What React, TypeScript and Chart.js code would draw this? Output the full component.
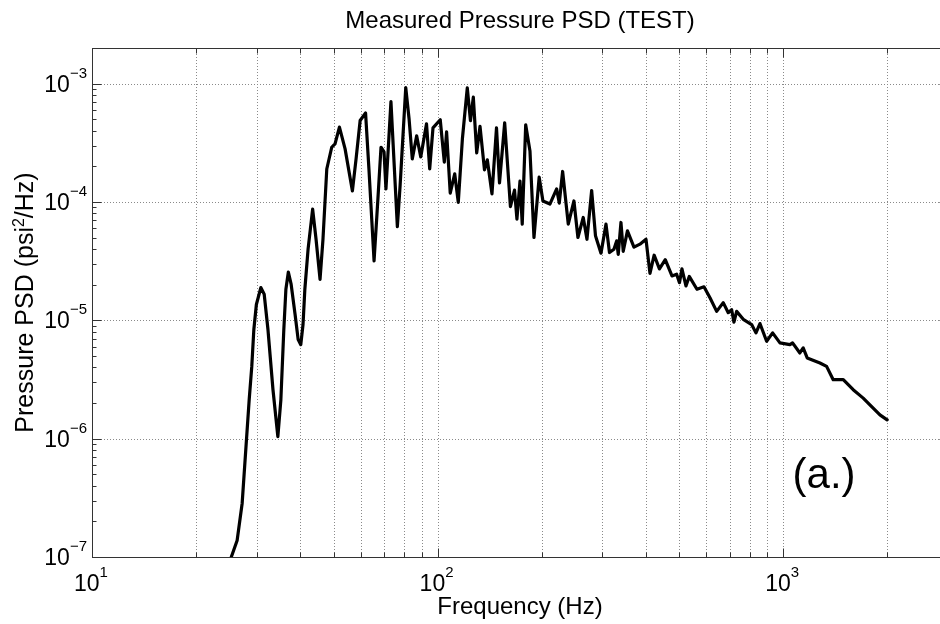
import React, { useEffect, useRef } from "react";
import { Chart, registerables } from "chart.js";

Chart.register(...registerables);

// ---- Data ----
const FREQ_HZ = [
  24.4, 25.3, 26.3, 27.2, 28.0, 28.5, 29.0, 29.4, 29.9, 30.8,
  31.5, 32.3, 33.4, 34.5, 35.2, 35.9, 36.4, 37.0, 37.7, 38.7,
  39.5, 40.2, 40.8, 41.3, 42.2, 43.5, 44.5, 45.7, 46.6, 47.8,
  49.4, 50.5, 52.0, 54.0, 56.7, 58.1, 59.7, 61.9, 63.3, 65.5,
  67.2, 68.6, 70.0, 70.9, 73.3, 76.5, 77.9, 80.9, 82.7, 84.5,
  87.0, 89.4, 92.9, 94.9, 97.0, 101.8, 104.6, 106.2, 108.8, 112.1,
  114.8, 118.0, 121.9, 124.5, 126.9, 129.8, 132.7, 136.7, 139.3, 143.7,
  148.1, 151.1, 156.4, 162.5, 167.0, 169.7, 173.2, 175.8, 179.9, 185.1,
  190.1, 196.8, 201.8, 211.4, 221.1, 225.0, 230.1, 238.9, 248.1, 254.8,
  264.0, 270.6, 279.2, 286.4, 297.1, 307.2, 314.4, 323.9, 329.8, 333.3,
  339.4, 344.6, 354.4, 370.1, 385.2, 401.0, 411.8, 423.4, 438.6, 456.0,
  476.8, 491.9, 501.2, 509.6, 523.4, 535.0, 563.2, 590.1, 614.2, 642.2,
  671.0, 693.7, 709.6, 720.6, 733.7, 766.7, 810.8, 834.4, 856.9, 895.9,
  932.4, 979.0, 1046, 1065, 1118, 1143, 1174, 1278, 1336, 1396,
  1493, 1595, 1705, 1783, 1906, 2000,
];

const PSD_PSI2_PER_HZ = [
  6.98e-8, 1.0e-7, 1.38e-7, 2.85e-7, 9.94e-7, 2.13e-6, 4.08e-6, 8.36e-6, 1.36e-5, 1.89e-5,
  1.66e-5, 8.36e-6, 2.59e-6, 1.04e-6, 2.13e-6, 8.36e-6, 1.83e-5, 2.56e-5, 2.01e-5, 1.12e-5,
  6.87e-6, 6.23e-6, 9.21e-6, 1.83e-5, 3.99e-5, 8.7e-5, 4.84e-5, 2.22e-5, 4.84e-5, 1.9e-4,
  2.9e-4, 3.1e-4, 4.29e-4, 2.81e-4, 1.24e-4, 2.31e-4, 4.88e-4, 5.64e-4, 1.9e-4, 3.17e-5,
  1.06e-4, 2.9e-4, 2.65e-4, 1.29e-4, 7.04e-4, 6.18e-5, 1.37e-4, 9.25e-4, 5.05e-4, 2.31e-4,
  3.62e-4, 2.4e-4, 4.58e-4, 1.9e-4, 4.23e-4, 4.95e-4, 2.17e-4, 3.92e-4, 1.19e-4, 1.73e-4,
  9.92e-5, 3.42e-4, 9.19e-4, 4.86e-4, 7.68e-4, 2.6e-4, 4.36e-4, 1.87e-4, 2.27e-4, 1.17e-4,
  4.23e-4, 1.45e-4, 4.67e-4, 9.14e-5, 1.26e-4, 7.16e-5, 1.5e-4, 6.5e-5, 4.49e-4, 2.7e-4,
  5.01e-5, 1.62e-4, 1.02e-4, 9.6e-5, 1.29e-4, 9.79e-5, 1.81e-4, 6.5e-5, 1.02e-4, 5.01e-5,
  7.4e-5, 4.84e-5, 1.25e-4, 5.19e-5, 3.69e-5, 6.5e-5, 3.74e-5, 3.99e-5, 4.69e-5, 3.61e-5,
  6.71e-5, 3.83e-5, 5.7e-5, 4.15e-5, 4.4e-5, 4.84e-5, 2.49e-5, 3.55e-5, 2.72e-5, 3.25e-5,
  2.37e-5, 2.45e-5, 2.08e-5, 2.72e-5, 1.95e-5, 2.35e-5, 1.83e-5, 1.92e-5, 1.55e-5, 1.19e-5,
  1.41e-5, 1.16e-5, 1.23e-5, 9.64e-6, 1.19e-5, 1.02e-5, 9.21e-6, 7.83e-6, 9.39e-6, 6.65e-6,
  7.83e-6, 6.44e-6, 6.23e-6, 6.44e-6, 5.3e-6, 5.84e-6, 4.81e-6, 4.36e-6, 4.08e-6, 3.15e-6,
  3.15e-6, 2.59e-6, 2.2e-6, 1.93e-6, 1.59e-6, 1.44e-6,
];

const X_MIN = 10;
const X_MAX = 3000;
const Y_MIN = 1e-7;
const Y_MAX = 2e-3;

const X_MAJOR_TICKS = [10, 100, 1000];
const X_MAJOR_EXPONENTS = ["1", "2", "3"];
const X_MINOR_TICKS = [
  20, 30, 40, 50, 60, 70, 80, 90,
  200, 300, 400, 500, 600, 700, 800, 900,
  2000,
];
const Y_MAJOR_TICKS = [1e-7, 1e-6, 1e-5, 1e-4, 1e-3];
const Y_MAJOR_EXPONENTS = ["\u22127", "\u22126", "\u22125", "\u22124", "\u22123"];
const Y_MINOR_TICKS = [
  2e-7, 3e-7, 4e-7, 5e-7, 6e-7, 7e-7, 8e-7, 9e-7,
  2e-6, 3e-6, 4e-6, 5e-6, 6e-6, 7e-6, 8e-6, 9e-6,
  2e-5, 3e-5, 4e-5, 5e-5, 6e-5, 7e-5, 8e-5, 9e-5,
  2e-4, 3e-4, 4e-4, 5e-4, 6e-4, 7e-4, 8e-4, 9e-4,
  2e-3,
];

const TITLE = "Measured Pressure PSD (TEST)";
const X_TITLE = "Frequency (Hz)";
const Y_TITLE_PARTS = ["Pressure PSD (psi", "2", "/Hz)"];
const ANNOTATION = "(a.)";
const TICK_BASE = "10";

const FONT = '"Liberation Sans", Arial, Helvetica, sans-serif';

const axesPlugin = {
  id: "matlabAxes",
  beforeDatasetsDraw(chart: any) {
    const { ctx, chartArea: a, scales } = chart;
    const x = scales.x;
    const y = scales.y;
    ctx.save();
    ctx.strokeStyle = "#8a8a8a";
    ctx.lineWidth = 1;
    ctx.setLineDash([1, 2]);
    const xs = [...X_MAJOR_TICKS, ...X_MINOR_TICKS].filter((v) => v > X_MIN && v < X_MAX);
    for (const v of xs) {
      const px = Math.round(x.getPixelForValue(v)) + 0.5;
      ctx.beginPath();
      ctx.moveTo(px, a.top);
      ctx.lineTo(px, a.bottom);
      ctx.stroke();
    }
    for (const v of Y_MAJOR_TICKS) {
      if (v <= Y_MIN || v >= Y_MAX) continue;
      const py = Math.round(y.getPixelForValue(v)) + 0.5;
      ctx.beginPath();
      ctx.moveTo(a.left, py);
      ctx.lineTo(a.right, py);
      ctx.stroke();
    }
    ctx.restore();
  },
  afterDatasetsDraw(chart: any) {
    const { ctx, chartArea: a, scales } = chart;
    const x = scales.x;
    const y = scales.y;
    ctx.save();
    ctx.setLineDash([]);
    ctx.strokeStyle = "#333";
    ctx.lineWidth = 1;
    const L = Math.round(a.left) + 0.5;
    const R = Math.round(a.right) + 0.5;
    const T = Math.round(a.top) + 0.5;
    const B = Math.round(a.bottom) + 0.5;
    ctx.strokeRect(L, T, R - L, B - T);
    const tick = (x1: number, y1: number, x2: number, y2: number) => {
      ctx.beginPath();
      ctx.moveTo(x1, y1);
      ctx.lineTo(x2, y2);
      ctx.stroke();
    };
    for (const v of X_MAJOR_TICKS) {
      const px = Math.round(x.getPixelForValue(v)) + 0.5;
      tick(px, B, px, B - 9);
      tick(px, T, px, T + 9);
    }
    for (const v of X_MINOR_TICKS) {
      const px = Math.round(x.getPixelForValue(v)) + 0.5;
      tick(px, B, px, B - 5);
      tick(px, T, px, T + 5);
    }
    for (const v of Y_MAJOR_TICKS) {
      const py = Math.round(y.getPixelForValue(v)) + 0.5;
      tick(L, py, L + 9, py);
      tick(R, py, R - 9, py);
    }
    for (const v of Y_MINOR_TICKS) {
      const py = Math.round(y.getPixelForValue(v)) + 0.5;
      tick(L, py, L + 4, py);
      tick(R, py, R - 4, py);
    }
    ctx.restore();
  },
  afterDraw(chart: any) {
    const { ctx, chartArea: a, scales } = chart;
    const x = scales.x;
    const y = scales.y;
    const big = `23px ${FONT}`;
    const sup = `15px ${FONT}`;
    ctx.save();
    ctx.fillStyle = "#000";
    ctx.textAlign = "left";
    ctx.textBaseline = "alphabetic";

    // y tick labels
    Y_MAJOR_TICKS.forEach((v, i) => {
      const py = y.getPixelForValue(v);
      ctx.font = big;
      const bw = ctx.measureText(TICK_BASE).width;
      ctx.font = sup;
      const ew = ctx.measureText(Y_MAJOR_EXPONENTS[i]).width;
      const start = a.left - 5 - bw - ew;
      ctx.font = big;
      ctx.fillText(TICK_BASE, start, py + 8);
      ctx.font = sup;
      ctx.fillText(Y_MAJOR_EXPONENTS[i], start + bw, py - 6);
    });

    // x tick labels
    X_MAJOR_TICKS.forEach((v, i) => {
      const px = x.getPixelForValue(v);
      ctx.font = big;
      const bw = ctx.measureText(TICK_BASE).width;
      ctx.font = sup;
      const ew = ctx.measureText(X_MAJOR_EXPONENTS[i]).width;
      const start = px - 1 - (bw + ew) / 2;
      ctx.font = big;
      ctx.fillText(TICK_BASE, start, a.bottom + 34);
      ctx.font = sup;
      ctx.fillText(X_MAJOR_EXPONENTS[i], start + bw, a.bottom + 20);
    });

    const cx = (a.left + a.right) / 2;
    const cy = (a.top + a.bottom) / 2;

    // title
    ctx.font = `24px ${FONT}`;
    ctx.textAlign = "center";
    ctx.fillText(TITLE, cx, 28);

    // x title
    ctx.font = `24px ${FONT}`;
    ctx.fillText(X_TITLE, cx, 614);

    // y title (rotated, with superscript)
    ctx.save();
    ctx.translate(33, cy);
    ctx.rotate(-Math.PI / 2);
    ctx.textAlign = "left";
    const f1 = `25px ${FONT}`;
    const f2 = `16px ${FONT}`;
    ctx.font = f1;
    const w1 = ctx.measureText(Y_TITLE_PARTS[0]).width;
    const w3 = ctx.measureText(Y_TITLE_PARTS[2]).width;
    ctx.font = f2;
    const w2 = ctx.measureText(Y_TITLE_PARTS[1]).width;
    let sx = -(w1 + w2 + w3) / 2;
    ctx.font = f1;
    ctx.fillText(Y_TITLE_PARTS[0], sx, 0);
    sx += w1;
    ctx.font = f2;
    ctx.fillText(Y_TITLE_PARTS[1], sx, -9);
    sx += w2;
    ctx.font = f1;
    ctx.fillText(Y_TITLE_PARTS[2], sx, 0);
    ctx.restore();

    // annotation
    ctx.font = `42px ${FONT}`;
    ctx.textAlign = "left";
    ctx.fillText(ANNOTATION, x.getPixelForValue(1065), y.getPixelForValue(1.0e-6) + 49);

    ctx.restore();
  },
};

export default function App() {
  const ref = useRef<HTMLCanvasElement>(null);
  useEffect(() => {
    const canvas = ref.current;
    if (!canvas) return;
    const chart = new Chart(canvas, {
      type: "line",
      data: {
        datasets: [
          {
            data: FREQ_HZ.map((f, i) => ({ x: f, y: PSD_PSI2_PER_HZ[i] })),
            borderColor: "#000",
            backgroundColor: "#000",
            borderWidth: 3.2,
            pointRadius: 0,
            tension: 0,
            clip: 0,
            borderJoinStyle: "round",
            borderCapStyle: "round",
            fill: false,
          } as any,
        ],
      },
      options: {
        responsive: false,
        maintainAspectRatio: false,
        animation: false,
        devicePixelRatio: 1,
        events: [],
        layout: { padding: { left: 92, top: 48, right: 52, bottom: 67 } },
        plugins: {
          legend: { display: false },
          tooltip: { enabled: false },
          title: { display: false },
        },
        scales: {
          x: { type: "logarithmic", min: X_MIN, max: X_MAX, display: false },
          y: { type: "logarithmic", min: Y_MIN, max: Y_MAX, display: false },
        },
      } as any,
      plugins: [axesPlugin],
    });
    return () => chart.destroy();
  }, []);
  return (
    <div
      style={{
        position: "fixed",
        left: 0,
        top: 0,
        width: 940,
        height: 624,
        overflow: "hidden",
        background: "#fff",
      }}
    >
      <canvas ref={ref} width={1000} height={624} style={{ display: "block", width: 1000, height: 624 }} />
    </div>
  );
}
